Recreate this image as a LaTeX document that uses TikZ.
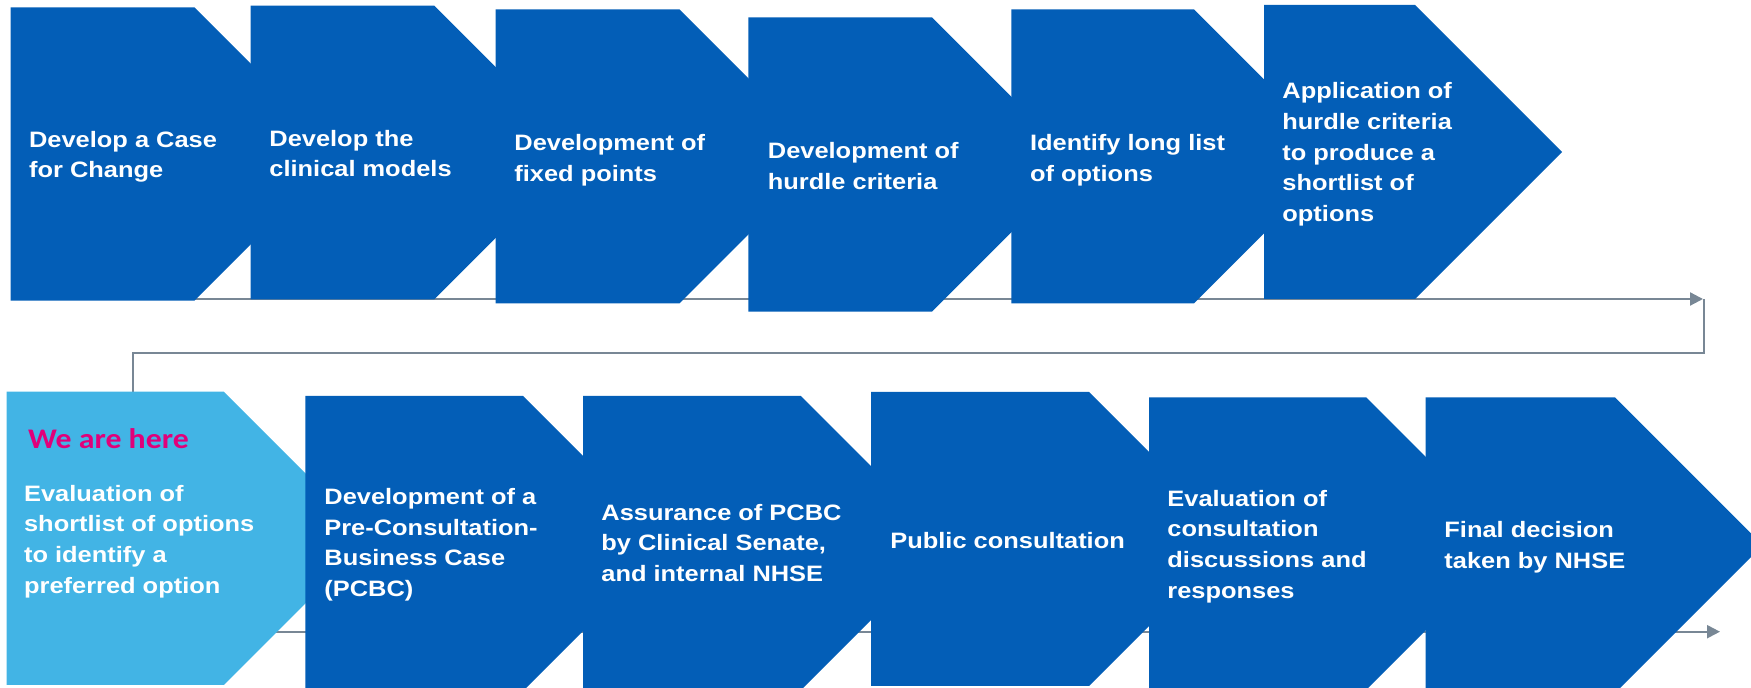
\documentclass[tikz,border=0pt]{standalone}
\usepackage{fontspec}
\setmainfont{Liberation Sans}[FakeStretch=1.14]
\newfontfamily\herefont{Carlito}[FakeStretch=1.12]
\usetikzlibrary{arrows.meta}

\definecolor{stepblue}{HTML}{035EB7}
\definecolor{nowblue}{HTML}{42B4E5}
\definecolor{herepink}{HTML}{E1007A}
\definecolor{flowgrey}{HTML}{788795}

% filled chevron: colour, left, top, end of top edge, bottom
\newcommand\chevshape[5]{%
  \fill[#1] (#2,#3) -- (#4,#3) -- ({#4+(#5-#3)/2},{(#3+#5)/2}) -- (#4,#5) -- (#2,#5) -- cycle;}

% labels are placed by the baseline of their last line
\tikzset{
  steptext/.style={anchor=base west, align=left, inner sep=0pt, text=white,
    font=\fontsize{11.15pt}{15.35pt}\selectfont\bfseries},
  heretext/.style={anchor=base west, inner sep=0pt, text=herepink,
    font=\fontsize{14.2pt}{17pt}\selectfont\herefont\bfseries},
  flowline/.style={draw=flowgrey, line width=1.1pt},
  flowarrow/.style={flowline, -{Triangle[length=6.5pt,width=6.5pt]}},
}

\begin{document}
\begin{tikzpicture}[x=0.5pt,y=-0.5pt]
\useasboundingbox (0,0) rectangle (1751,688);
\clip (0,0) rectangle (1751,688);

% timeline connectors under the steps
\coordinate (rowAstart) at (30,299);
\coordinate (rowAend) at (1703,299);
\coordinate (turnA) at (1704,299);
\coordinate (turnB) at (1704,353.3);
\coordinate (turnC) at (133,353.3);
\coordinate (turnD) at (133,395);
\coordinate (rowBstart) at (30,631.7);
\coordinate (rowBend) at (1720,631.7);
\draw[flowarrow] (rowAstart) -- (rowAend);
\draw[flowline] (turnA) -- (turnB) -- (turnC) -- (turnD);
\draw[flowarrow] (rowBstart) -- (rowBend);

% first row of steps
\chevshape{stepblue}{10.7}{7.3}{194.4}{300.7}
\chevshape{stepblue}{250.7}{5.7}{434.4}{299.3}
\chevshape{stepblue}{495.6}{9.5}{679.5}{303.3}
\chevshape{stepblue}{748.4}{17.3}{932}{311.7}
\chevshape{stepblue}{1011.3}{9.3}{1194}{303.3}
\chevshape{stepblue}{1264}{5}{1415.2}{299}

% second row of steps
\chevshape{nowblue}{6.5}{391.7}{223.9}{685}
\chevshape{stepblue}{305.4}{396}{523.2}{691}
\chevshape{stepblue}{583}{396}{800.8}{690.2}
\chevshape{stepblue}{871}{392}{1089}{686}
\chevshape{stepblue}{1149}{397.3}{1366.2}{690}
\chevshape{stepblue}{1425.5}{397.3}{1615}{693}

% step labels
\node[steptext] (t1) at (28.7,178) {Develop a Case\\for Change};
\node[steptext] (t2) at (269,177) {Develop the\\clinical models};
\node[steptext] (t3) at (514,181.5) {Development of\\fixed points};
\node[steptext] (t4) at (767.5,189.3) {Development of\\hurdle criteria};
\node[steptext] (t5) at (1029.7,181.5) {Identify long list\\of options};
\node[steptext] (t6) at (1282,221.7) {Application of\\hurdle criteria\\to produce a\\shortlist of\\options};

\node[heretext] (here) at (27.6,448.3) {We are here};
\node[steptext] (b1) at (23.7,593.3) {Evaluation of\\shortlist of options\\to identify a\\preferred option};
\node[steptext] (b2) at (324,596.7) {Development of a\\Pre-Consultation-\\Business Case\\(PCBC)};
\node[steptext] (b3) at (601,581.7) {Assurance of PCBC\\by Clinical Senate,\\and internal NHSE};
\node[steptext] (b4) at (890,548.3) {Public consultation};
\node[steptext] (b5) at (1167,598.3) {Evaluation of\\consultation\\discussions and\\responses};
\node[steptext] (b6) at (1444,568.3) {Final decision\\taken by NHSE};
\end{tikzpicture}
\end{document}
